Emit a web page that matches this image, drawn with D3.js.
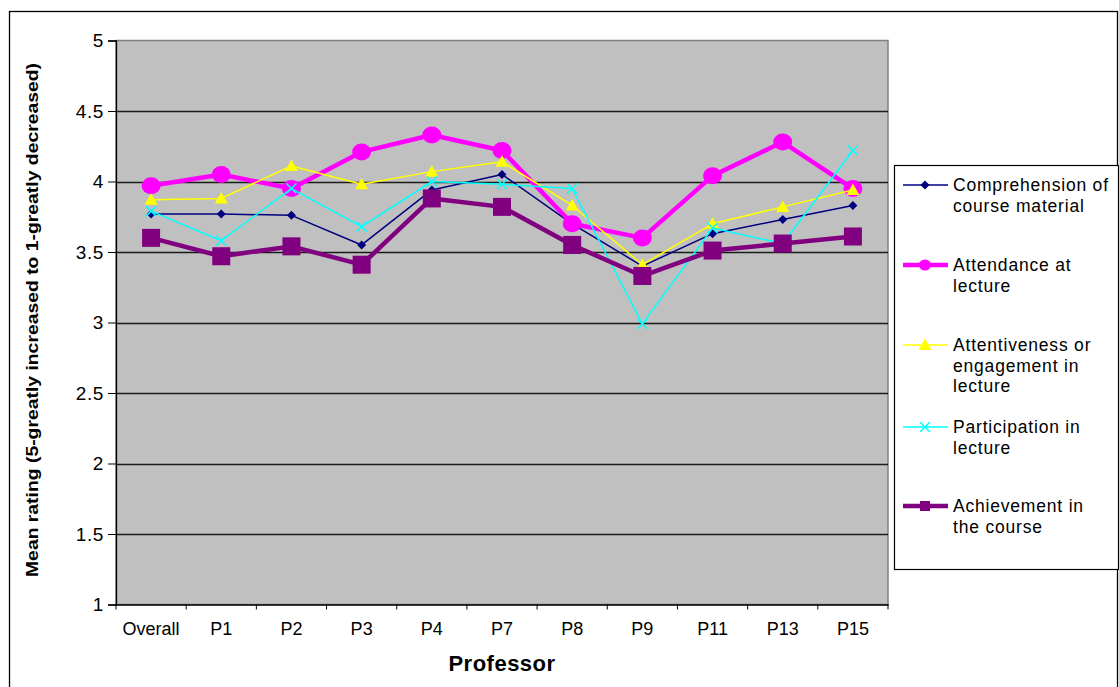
<!DOCTYPE html>
<html><head><meta charset="utf-8">
<script src="https://cdn.jsdelivr.net/npm/d3@7"></script>
<style>
html,body{margin:0;padding:0;background:#fff;}
svg{display:block;font-family:"Liberation Sans",Arial,sans-serif;}
</style></head>
<body>
<svg id="c" width="1119" height="687"></svg>
<script>
const categories = ["Overall","P1","P2","P3","P4","P7","P8","P9","P11","P13","P15"];
const comprehension = [3.77,3.77,3.76,3.55,3.94,4.05,3.70,3.40,3.63,3.73,3.83];
const attendance    = [3.97,4.05,3.95,4.21,4.33,4.22,3.70,3.60,4.04,4.28,3.95];
const attentiveness = [3.87,3.88,4.11,3.98,4.07,4.14,3.83,3.41,3.70,3.82,3.94];
const participation = [3.79,3.58,3.95,3.68,4.00,3.98,3.95,2.99,3.67,3.56,4.22];
const achievement   = [3.60,3.47,3.54,3.41,3.88,3.82,3.55,3.33,3.51,3.56,3.61];
const yTicks = [1,1.5,2,2.5,3,3.5,4,4.5,5];
const seriesNames = [["Comprehension of","course material"],["Attendance at","lecture"],["Attentiveness or","engagement in","lecture"],["Participation in","lecture"],["Achievement in","the course"]];

const series = [
  {name:seriesNames[0], values:comprehension, color:"#000080", width:1.5, marker:"diamond"},
  {name:seriesNames[1], values:attendance, color:"#FF00FF", width:4.5, marker:"circle"},
  {name:seriesNames[2], values:attentiveness, color:"#FFFF00", width:1.5, marker:"triangle"},
  {name:seriesNames[3], values:participation, color:"#00FFFF", width:1.5, marker:"x"},
  {name:seriesNames[4], values:achievement, color:"#800080", width:4.5, marker:"square"}
];

const svg = d3.select("#c");
const L=116, R=888, T=40.5, B=604.5;

// outer frame
svg.append("rect").attr("x",9.5).attr("y",11.5).attr("width",1108).attr("height",700)
  .attr("fill","#fff").attr("stroke","#000").attr("stroke-width",1.3);

const x = d3.scaleBand().domain(categories).range([L,R]).padding(0);
const y = d3.scaleLinear().domain([1,5]).range([B,T]);
const cx = d => x(d)+x.bandwidth()/2;

// plot area
svg.append("rect").attr("x",L).attr("y",T).attr("width",R-L).attr("height",B-T)
  .attr("fill","#C0C0C0").attr("stroke","#808080").attr("stroke-width",1.5);

// gridlines
svg.append("g").selectAll("line").data(yTicks.filter(t=>t>1&&t<5)).join("line")
  .attr("x1",L).attr("x2",R).attr("y1",d=>Math.round(y(d))+0.5).attr("y2",d=>Math.round(y(d))+0.5)
  .attr("stroke","#1a1a1a").attr("stroke-width",1.5);

// y axis
const yAxis = d3.axisLeft(y).tickValues(yTicks).tickSize(8).tickPadding(4).tickFormat(d3.format("~g"));
const gy = svg.append("g").attr("transform",`translate(${L},0)`).call(yAxis);
gy.select(".domain").attr("stroke","#000").attr("stroke-width",1.3);
gy.selectAll(".tick line").attr("stroke","#000");
gy.selectAll(".tick text").attr("font-size",19).attr("letter-spacing",0.6).attr("fill","#000").attr("font-family","Liberation Sans, Arial, sans-serif");

// x axis
const xAxis = d3.axisBottom(x).tickSize(0).tickPadding(18);
const gx = svg.append("g").attr("transform",`translate(0,${B})`).call(xAxis);
gx.select(".domain").attr("stroke","#000").attr("stroke-width",1.3);
gx.selectAll(".tick text").attr("font-size",18).attr("fill","#000").attr("font-family","Liberation Sans, Arial, sans-serif");
const bounds = categories.map(c=>x(c)).concat([R]);
svg.append("g").selectAll("line").data(bounds).join("line")
  .attr("x1",d=>d).attr("x2",d=>d).attr("y1",B).attr("y2",B+5)
  .attr("stroke","#000").attr("stroke-width",1);

// axis titles
svg.append("text").attr("x",502).attr("y",671).attr("text-anchor","middle")
  .attr("font-size",22).attr("font-weight","bold").attr("letter-spacing",0.5).text("Professor");
svg.append("text").attr("transform","translate(38,320) rotate(-90)").attr("text-anchor","middle")
  .attr("font-size",16).attr("font-weight","bold")
  .attr("textLength",514).attr("lengthAdjust","spacingAndGlyphs")
  .text("Mean rating (5-greatly increased to 1-greatly decreased)");

function drawMarker(g, type, px, py, color){
  if(type==="diamond"){
    g.append("path").attr("d",`M${px},${py-4.5}L${px+4.5},${py}L${px},${py+4.5}L${px-4.5},${py}Z`).attr("fill",color);
  } else if(type==="circle"){
    g.append("ellipse").attr("cx",px).attr("cy",py).attr("rx",9.5).attr("ry",8.5).attr("fill",color);
  } else if(type==="triangle"){
    g.append("path").attr("d",`M${px},${py-6.5}L${px+6.5},${py+5}L${px-6.5},${py+5}Z`).attr("fill",color);
  } else if(type==="x"){
    g.append("path").attr("d",`M${px-5},${py-5}L${px+5},${py+5}M${px+5},${py-5}L${px-5},${py+5}`).attr("stroke",color).attr("stroke-width",1.5);
  } else if(type==="square"){
    g.append("rect").attr("x",px-9).attr("y",py-9).attr("width",18).attr("height",18).attr("fill",color);
  }
}

const line = d3.line().x((d,i)=>cx(categories[i])).y(d=>y(d));
series.forEach(s=>{
  const g = svg.append("g");
  g.append("path").attr("d",line(s.values)).attr("fill","none").attr("stroke",s.color).attr("stroke-width",s.width).attr("stroke-linejoin","round");
  s.values.forEach((v,i)=>drawMarker(g,s.marker,cx(categories[i]),y(v),s.color));
});

// legend
svg.append("rect").attr("x",894.5).attr("y",165.5).attr("width",224).attr("height",404)
  .attr("fill","#fff").attr("stroke","#000").attr("stroke-width",1.2);
const legY = [185,265,345,427,506];
series.forEach((s,i)=>{
  const g = svg.append("g");
  const ly = legY[i];
  g.append("line").attr("x1",903).attr("x2",948).attr("y1",ly).attr("y2",ly).attr("stroke",s.color).attr("stroke-width",s.width);
  const mtype = s.marker;
  if(mtype==="circle") g.append("ellipse").attr("cx",925).attr("cy",ly).attr("rx",6).attr("ry",5.5).attr("fill",s.color);
  else if(mtype==="square") g.append("rect").attr("x",920).attr("y",ly-5).attr("width",10).attr("height",10).attr("fill",s.color);
  else drawMarker(g,mtype,925,ly,s.color);
  s.name.forEach((t,j)=>{
    g.append("text").attr("x",953).attr("y",ly+6+j*20.5).attr("font-size",17.5).attr("letter-spacing",0.8).attr("fill","#000").text(t);
  });
});
</script>
</body></html>
